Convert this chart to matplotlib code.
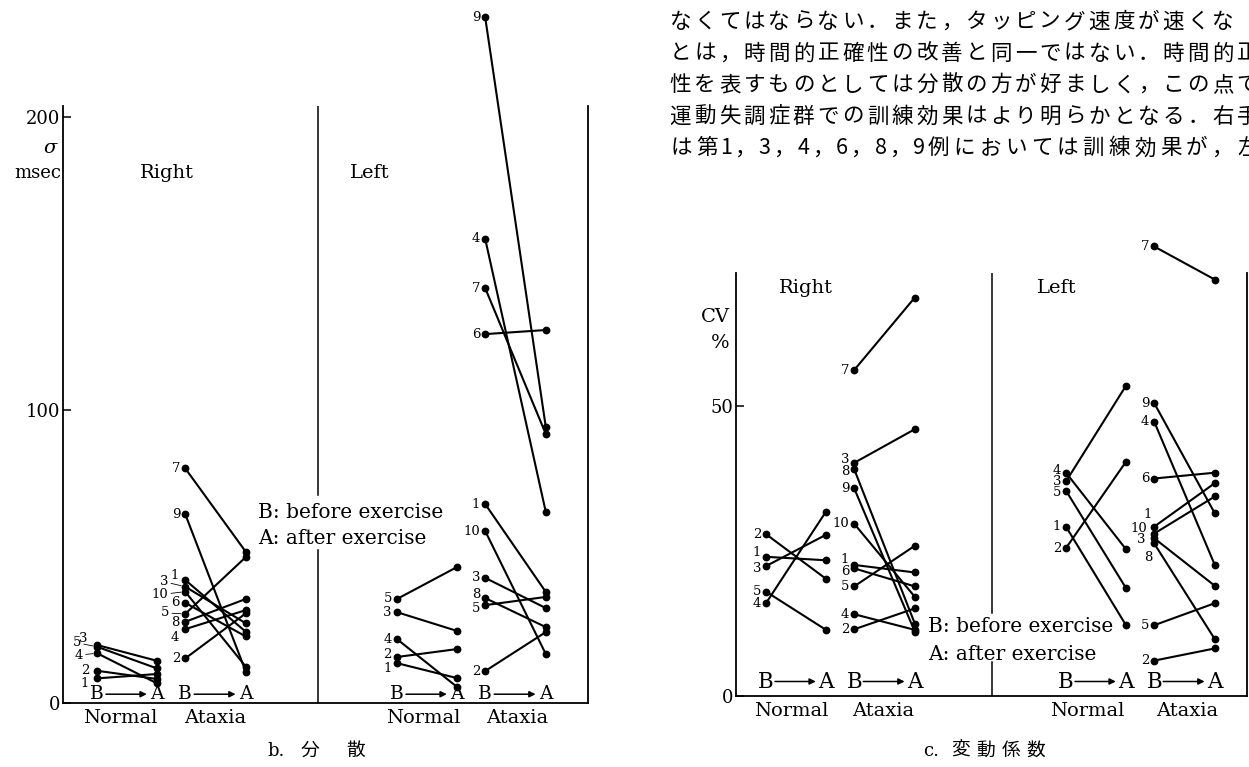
import matplotlib
matplotlib.use("Agg")
import matplotlib.pyplot as plt

plt.rcParams['font.family'] = ['DejaVu Serif', 'Noto Sans CJK JP']

W, H = 1249, 767

ids5 = [1, 2, 3, 4, 5]
ids10 = [1, 2, 3, 4, 5, 6, 7, 8, 9, 10]

# b. 分散  (sigma, msec)
b_r_norm_before = [8.4, 11.0, 19.8, 17.0, 19.2]
b_r_norm_after = [9.9, 8.2, 14.4, 6.7, 11.8]
b_r_atax_before = [42.0, 15.2, 39.7, 25.2, 30.4, 34.2, 80.1, 27.7, 64.5, 38.0]
b_r_atax_after = [24.3, 30.6, 27.2, 31.7, 49.8, 22.7, 51.6, 35.5, 10.7, 12.4]
b_l_norm_before = [13.6, 15.7, 31.0, 21.8, 35.5]
b_l_norm_after = [8.5, 18.4, 24.6, 5.5, 46.4]
b_l_atax_before = [67.9, 10.9, 42.7, 158.4, 33.4, 125.9, 141.6, 35.8, 234.0, 58.7]
b_l_atax_after = [37.9, 24.2, 32.4, 65.2, 36.2, 127.3, 91.8, 25.9, 94.2, 16.7]

# c. 変動係数  (CV, %)
c_r_norm_before = [24.0, 27.9, 22.4, 16.0, 18.0]
c_r_norm_after = [23.4, 20.2, 27.8, 31.8, 11.4]
c_r_atax_before = [22.6, 11.5, 40.2, 14.1, 18.9, 22.0, 56.2, 39.1, 35.8, 29.7]
c_r_atax_after = [21.3, 15.1, 46.0, 11.4, 25.9, 18.9, 68.7, 12.5, 11.1, 17.1]
c_l_norm_before = [29.2, 25.5, 37.0, 38.5, 35.4]
c_l_norm_after = [12.2, 40.4, 53.5, 25.3, 18.6]
c_l_atax_before = [29.2, 6.1, 27.2, 47.3, 12.2, 37.5, 77.5, 26.3, 50.5, 28.0]
c_l_atax_after = [36.7, 8.2, 19.0, 22.6, 16.0, 38.5, 71.8, 9.8, 31.5, 34.4]

groups = ['Normal', 'Ataxia']
sides = ['Right', 'Left']
b_ticks = [0, 100, 200]
c_ticks = [0, 50]

jp_lines = [
    'なくてはならない．また，タッピング速度が速くな',
    'とは，時間的正確性の改善と同一ではない．時間的正',
    '性を表すものとしては分散の方が好ましく，この点で',
    '運動失調症群での訓練効果はより明らかとなる．右手',
    'は第1，3，4，6，8，9例においては訓練効果が，左',
]

# x slots: Normal B/A, Ataxia B/A ; left side shifted by 5
NB, NA, AB, AA = 0.0, 1.0, 1.47, 2.48
SHIFT = 5.0

fig = plt.figure(figsize=(W / 100, H / 100), dpi=100)


def fx(px):
    return px / W


def fy(py):
    return 1 - py / H


def make_axes(x0, x1, y0, y1, left, right, ytop):
    ax = fig.add_axes([fx(x0), fy(y1), (x1 - x0) / W, (y1 - y0) / H])
    ax.set_xlim(left, right)
    ax.set_ylim(0, ytop)
    ax.spines['top'].set_visible(False)
    for s in ['left', 'right', 'bottom']:
        ax.spines[s].set_linewidth(1.3)
    ax.set_xticks([])
    ax.tick_params(axis='y', direction='in', length=6, width=1.1,
                   labelsize=13, pad=2)
    return ax


def draw_group(ax, xb, xa, before, after, adj, fs=9.5):
    ids = ids5 if len(before) == 5 else ids10
    for i, b, a in zip(ids, before, after):
        ax.plot([xb, xa], [b, a], color='k', lw=1.5, marker='o', ms=4.6,
                clip_on=False, solid_capstyle='round')
        dx, dy, lead = adj.get(i, (-5, 0, False))
        ap = dict(arrowstyle='-', lw=0.6, color='k', shrinkA=0, shrinkB=3) if lead else None
        ax.annotate(str(i), xy=(xb, b), xytext=(dx * 0.72, -dy * 0.72),
                    textcoords='offset points', ha='right', va='center',
                    fontsize=fs, arrowprops=ap, annotation_clip=False)


def draw_ba(ax, xb, xa, y, fs):
    ax.text(xb, y, 'B', ha='center', va='center', fontsize=fs)
    ax.text(xa, y, 'A', ha='center', va='center', fontsize=fs)
    ax.annotate('', xy=(xa - 0.17, y), xytext=(xb + 0.15, y),
                arrowprops=dict(arrowstyle='-|>', lw=1.1, color='k',
                                mutation_scale=9, shrinkA=0, shrinkB=0))


def divider(ax, x, ylo, yhi, ytop):
    ax.plot([x, x], [0, ylo], color='k', lw=1.1)
    ax.plot([x, x], [yhi, ytop], color='k', lw=1.1)


# ---------------- panel b ----------------
b_top = (703 - 106) / 2.93
axb = make_axes(63, 588, 106, 703, (63 - 97) / 60, (588 - 97) / 60, b_top)
axb.set_yticks(b_ticks)
divider(axb, (318 - 97) / 60, 52.2, 71.0, b_top)

draw_group(axb, NB, NA, b_r_norm_before, b_r_norm_after,
           {5: (-16, -4, True), 3: (-9, -6, False), 4: (-14, 2, True),
            2: (-7, 0, False), 1: (-8, 5, False)})
draw_group(axb, AB, AA, b_r_atax_before, b_r_atax_after,
           {1: (-6, -4, False), 3: (-17, -5, True), 10: (-17, 3, True),
            6: (-6, 0, False), 5: (-16, -1, True), 8: (-6, 1, False),
            4: (-6, 8, False)})
draw_group(axb, NB + SHIFT, NA + SHIFT, b_l_norm_before, b_l_norm_after,
           {2: (-5, -2, False), 1: (-5, 5, False)})
draw_group(axb, AB + SHIFT, AA + SHIFT, b_l_atax_before, b_l_atax_after,
           {8: (-5, -4, False), 5: (-5, 3, False)})

for off in [0, SHIFT]:
    draw_ba(axb, NB + off, NA + off, 3.0, 13.5)
    draw_ba(axb, AB + off, AA + off, 3.0, 13.5)

fig.text(fx(120), fy(718), groups[0], ha='center', va='center', fontsize=14)
fig.text(fx(215), fy(718), groups[1], ha='center', va='center', fontsize=14)
fig.text(fx(423), fy(718), groups[0], ha='center', va='center', fontsize=14)
fig.text(fx(517), fy(718), groups[1], ha='center', va='center', fontsize=14)
fig.text(fx(167), fy(173), sides[0], ha='center', va='center', fontsize=14)
fig.text(fx(370), fy(173), sides[1], ha='center', va='center', fontsize=14)
fig.text(fx(50), fy(148), 'σ', ha='center', va='center', fontsize=14, style='italic')
fig.text(fx(61), fy(173), 'msec', ha='right', va='center', fontsize=13)
fig.text(fx(258), fy(512), 'B: before exercise', ha='left', va='center', fontsize=14.5)
fig.text(fx(258), fy(538), 'A: after exercise', ha='left', va='center', fontsize=14.5)
fig.text(fx(267), fy(751), 'b.', ha='left', va='center', fontsize=13)
fig.text(fx(310), fy(751), '分', ha='center', va='center', fontsize=13.5)
fig.text(fx(356), fy(751), '散', ha='center', va='center', fontsize=13.5)

# ---------------- panel c ----------------
c_top = (696 - 273) / 5.8
axc = make_axes(736, 1247, 273, 696, (736 - 766) / 60, (1247 - 766) / 60, c_top)
axc.set_yticks(c_ticks)
divider(axc, (992 - 766) / 60, 5.9, 14.3, c_top)

draw_group(axc, NB, NA, c_r_norm_before, c_r_norm_after,
           {1: (-5, -4, False), 3: (-5, 2, False)})
draw_group(axc, AB, AA, c_r_atax_before, c_r_atax_after,
           {3: (-5, -3, False), 8: (-5, 2, False), 1: (-5, -5, False),
            6: (-5, 3, False)})
draw_group(axc, NB + SHIFT, NA + SHIFT, c_l_norm_before, c_l_norm_after,
           {4: (-5, -2, False), 5: (-5, 2, False)})
draw_group(axc, AB + SHIFT, AA + SHIFT, c_l_atax_before, c_l_atax_after,
           {1: (-2, -12, False), 10: (-7, -5, False), 3: (-9, 1, False),
            8: (-2, 14, False)})

for off in [0, SHIFT]:
    draw_ba(axc, NB + off, NA + off, 2.5, 15.5)
    draw_ba(axc, AB + off, AA + off, 2.5, 15.5)

fig.text(fx(791), fy(711), groups[0], ha='center', va='center', fontsize=14)
fig.text(fx(883), fy(711), groups[1], ha='center', va='center', fontsize=14)
fig.text(fx(1087), fy(711), groups[0], ha='center', va='center', fontsize=14)
fig.text(fx(1187), fy(711), groups[1], ha='center', va='center', fontsize=14)
fig.text(fx(806), fy(288), sides[0], ha='center', va='center', fontsize=14)
fig.text(fx(1057), fy(288), sides[1], ha='center', va='center', fontsize=14)
fig.text(fx(730), fy(317), 'CV', ha='right', va='center', fontsize=14)
fig.text(fx(730), fy(343), '%', ha='right', va='center', fontsize=14)
fig.text(fx(928), fy(626), 'B: before exercise', ha='left', va='center', fontsize=14.5)
fig.text(fx(928), fy(654), 'A: after exercise', ha='left', va='center', fontsize=14.5)
fig.text(fx(923), fy(751), 'c.', ha='left', va='center', fontsize=13)
for k, ch in enumerate('変動係数'):
    fig.text(fx(961 + 25 * k), fy(751), ch, ha='center', va='center', fontsize=13.5)

# ---------------- Japanese body text ----------------
pitch = 24.65
for k, line in enumerate(jp_lines):
    widths = [0.5 if c.isascii() else 1.0 for c in line]
    stretch = 23.0 / sum(widths[:-1]) if k > 0 else 23.0 / sum(widths)
    x = 668.0
    for c, w in zip(line, widths):
        fig.text(fx(x + w * pitch * stretch / 2), fy(22 + 31.6 * k), c,
                 ha='center', va='center', fontsize=15.5,
                 family=['Noto Sans CJK JP'])
        x += w * pitch * stretch

fig.savefig('out.png', dpi=100)
